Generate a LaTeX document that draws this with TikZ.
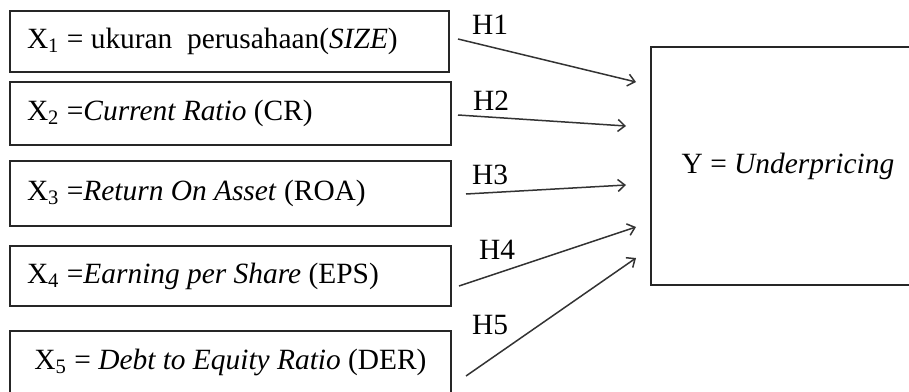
\documentclass[tikz,border=0pt]{standalone}
\usepackage{fontspec}
\setmainfont{Liberation Serif}
\usetikzlibrary{calc, arrows.meta}

\begin{document}
\begin{tikzpicture}[x=0.5pt, y=-0.5pt,
    font=\fontsize{14.7}{17}\selectfont,
    varbox/.style={draw=black!85, line width=1pt, inner xsep=8.5pt},
    leftbox/.style={varbox, text width=203.5pt, align=left, execute at begin node={\spaceskip=0pt\xspaceskip=0pt}},
    hyp/.style={-{Straight Barb[length=3.5pt, width=6pt]}, draw=black!80, line width=0.75pt}]
    \clip (0,0) rectangle (909,391);
    % variabel independen
    \node[leftbox, text width=202.5pt, minimum height=30.5pt] (x1) at (229.5,41.5) {X\textsubscript{1} = ukuran\ \ perusahaan(\textit{SIZE})};
    \node[leftbox, minimum height=31.5pt] (x2) at (230.5,113.5) {X\textsubscript{2} =\textit{Current Ratio} (CR)};
    \node[leftbox, minimum height=32.5pt] (x3) at (230.5,193.5) {X\textsubscript{3} =\textit{Return On Asset} (ROA)};
    \node[leftbox, minimum height=30pt] (x4) at (230.5,276) {X\textsubscript{4} =\textit{Earning per Share} (EPS)};
    \node[varbox, minimum width=220.5pt, minimum height=31pt] (x5) at (230.5,362) {X\textsubscript{5} = \textit{Debt to Equity Ratio} (DER)};
    % variabel dependen
    \node[varbox, minimum width=137pt, minimum height=119pt] (y) at (788,166) {Y = \textit{Underpricing}};
    \coordinate (t1) at ([shift={(-14,-84)}]y.west);
    \coordinate (t2) at ([shift={(-24,-40)}]y.west);
    \coordinate (t3) at ([shift={(-24,19)}]y.west);
    \coordinate (t4) at ([shift={(-14,61)}]y.west);
    \coordinate (t5) at ([shift={(-14,92)}]y.west);
    % hipotesis
    \draw[hyp] ([shift={(8,-2.5)}]x1.east) -- (t1);
    \draw[hyp] ([shift={(6,1.5)}]x2.east) -- (t2);
    \draw[hyp] ([shift={(14,0.5)}]x3.east) -- (t3);
    \draw[hyp] ([shift={(7,10)}]x4.east) -- (t4);
    \draw[hyp] ([shift={(14,14)}]x5.east) -- (t5);
    \node (h1) at (490,25) {H1};
    \node (h2) at (491,101) {H2};
    \node (h3) at (490,175) {H3};
    \node (h4) at (497,250) {H4};
    \node (h5) at (490,325) {H5};
\end{tikzpicture}
\end{document}
